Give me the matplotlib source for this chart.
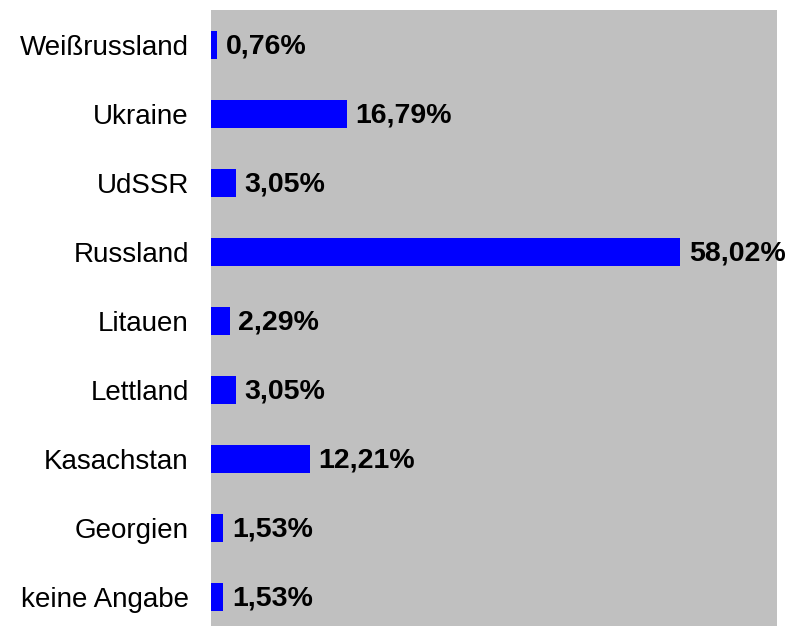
import matplotlib
import matplotlib.pyplot as plt
matplotlib.use('Agg')

# Data (top to bottom)
countries = ['Weißrussland', 'Ukraine', 'UdSSR', 'Russland', 'Litauen',
             'Lettland', 'Kasachstan', 'Georgien', 'keine Angabe']
shares = [0.76, 16.79, 3.05, 58.02, 2.29, 3.05, 12.21, 1.53, 1.53]
share_labels = ['0,76%', '16,79%', '3,05%', '58,02%', '2,29%',
                '3,05%', '12,21%', '1,53%', '1,53%']

plt.rcParams['font.family'] = ['Liberation Sans', 'DejaVu Sans']

fig = plt.figure(figsize=(7.89, 6.26), dpi=100)
ax = fig.add_axes([211 / 789, 0, 566 / 789, 616 / 626])
ax.set_facecolor('#c0c0c0')

ypos = list(range(len(countries)))
bars = ax.barh(ypos, shares, height=0.42, color='#0000ff')

# Value labels next to each bar
for bar, label in zip(bars, share_labels):
    ax.text(bar.get_width() + 1.1, bar.get_y() + bar.get_height() / 2 + 0.02, label,
            ha='left', va='center', fontsize=20.5, fontweight='bold',
            color='black', clip_on=False)

ax.set_xlim(0, 70)
ax.set_ylim(8 + 29 / 69, -35 / 69)
ax.set_yticks(ypos)
ax.set_yticklabels(countries, fontsize=20)
ax.tick_params(axis='y', length=0, pad=16)
ax.set_xticks([])
for spine in ax.spines.values():
    spine.set_visible(False)

plt.savefig('out.png', dpi=100)
plt.close()
